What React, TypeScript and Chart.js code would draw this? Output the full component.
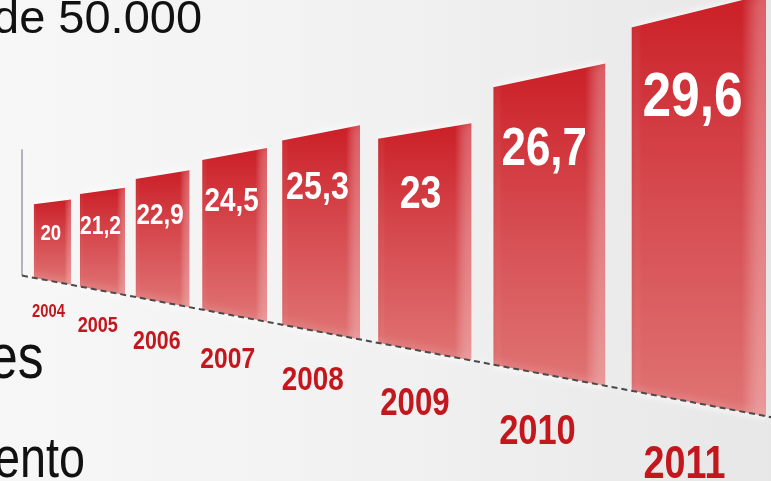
import React, { useEffect, useRef } from "react";
import { Chart, registerables } from "chart.js";

Chart.register(...registerables);

// ---- data ----
const years = ["2004", "2005", "2006", "2007", "2008", "2009", "2010", "2011"];
const values = [20, 21.2, 22.9, 24.5, 25.3, 23, 26.7, 29.6];
const valueLabels = ["20", "21,2", "22,9", "24,5", "25,3", "23", "26,7", "29,6"];
const slideFragments = ["de 50.000", "es", "ento"];

// ---- perspective layout (style constants) ----
const CANVAS_W = 771;
const CANVAS_H = 481;
const VP_X = -200; // vanishing point of the tilted chart plane
const VP_Y = 233.6;
const FLOOR_SLOPE = 0.189;
const VALUE_FLOOR = -4.85; // value axis origin of the plane
const HEIGHT_PER_UNIT = 0.01268;
const AXIS_TOP_VALUE = 40;
const X_ORIGIN = -197.7;
const X_SPAN = 231.4;
const GROWTH = 1.2;
const BAR_FRACTION = 0.825;
const AXIS_U = -0.285;
const END_U = 8.3;
const VALUE_LABEL_U = 0.39;
const YEAR_LABEL_U = 0.34;
const NARROW = 0.82;

const planeX = (u: number) => X_ORIGIN + X_SPAN * Math.pow(GROWTH, u);
const planeH = (v: number) => HEIGHT_PER_UNIT * (v - VALUE_FLOOR);
const depth = (x: number) => x - VP_X;
const projY = (x: number, h: number) => VP_Y + depth(x) * (FLOOR_SLOPE - h);

const ok = (...n: number[]) => n.every((k) => Number.isFinite(k));

function drawText(
  ctx: CanvasRenderingContext2D,
  text: string,
  x: number,
  y: number,
  size: number,
  color: string,
  weight: string,
  align: CanvasTextAlign,
  squeeze: number
) {
  ctx.save();
  ctx.translate(x, y);
  ctx.scale(squeeze, 1);
  ctx.font = `${weight} ${size}px "Liberation Sans", Arial, sans-serif`;
  ctx.fillStyle = color;
  ctx.textAlign = align;
  ctx.textBaseline = "alphabetic";
  ctx.fillText(text, 0, 0);
  ctx.restore();
}

export default function App() {
  const ref = useRef<HTMLCanvasElement>(null);

  useEffect(() => {
    const canvas = ref.current;
    if (!canvas) return;

    const datasets: any[] = [];
    const ax = planeX(AXIS_U);
    const ex = planeX(END_U);

    datasets.push({
      label: "floor",
      data: [
        { x: ax, y: projY(ax, 0) },
        { x: ex, y: projY(ex, 0) },
      ],
      borderColor: "#4a4a4a",
      borderWidth: 2,
      borderDash: [6, 4],
      pointRadius: 0,
      fill: false,
      order: 0,
    });
    datasets.push({
      label: "axis",
      data: [
        { x: ax, y: projY(ax, 0) },
        { x: ax, y: projY(ax, planeH(AXIS_TOP_VALUE)) },
      ],
      borderColor: "#b2b2ba",
      borderWidth: 2,
      pointRadius: 0,
      fill: false,
      order: 0,
    });

    values.forEach((v, i) => {
      const xl = planeX(i);
      const xr = planeX(i + BAR_FRACTION);
      const h = planeH(v);
      const bottom = [
        { x: xl, y: projY(xl, 0) },
        { x: xr, y: projY(xr, 0) },
      ];
      const top = [
        { x: xl, y: projY(xl, h) },
        { x: xr, y: projY(xr, h) },
      ];
      const bottomIndex = datasets.length;
      datasets.push({
        label: `${years[i]}-base`,
        data: bottom,
        borderColor: "transparent",
        borderWidth: 0,
        pointRadius: 0,
        fill: false,
        order: 3,
      });
      datasets.push({
        label: years[i],
        data: top,
        borderColor: "transparent",
        borderWidth: 0,
        pointRadius: 0,
        fill: bottomIndex,
        order: 2,
        backgroundColor: (c: any) => {
          const chart = c.chart;
          const sy = chart.scales && chart.scales.y;
          if (!sy || !chart.chartArea) return "#d2373d";
          const y0 = sy.getPixelForValue(Math.min(top[0].y, top[1].y));
          const y1 = sy.getPixelForValue(Math.max(bottom[0].y, bottom[1].y));
          if (!ok(y0, y1) || y0 === y1) return "#d2373d";
          const g = chart.ctx.createLinearGradient(0, y0, 0, y1);
          g.addColorStop(0, "#cb1f27");
          g.addColorStop(0.45, "#d5484d");
          g.addColorStop(1, "#e07474");
          return g;
        },
      });
      datasets.push({
        label: `${years[i]}-sheen`,
        data: top,
        borderColor: "transparent",
        borderWidth: 0,
        pointRadius: 0,
        fill: bottomIndex,
        order: 1,
        backgroundColor: (c: any) => {
          const chart = c.chart;
          const sx = chart.scales && chart.scales.x;
          if (!sx || !chart.chartArea) return "rgba(0,0,0,0)";
          const x0 = sx.getPixelForValue(xl);
          const x1 = sx.getPixelForValue(xr);
          if (!ok(x0, x1) || x0 === x1) return "rgba(0,0,0,0)";
          const g = chart.ctx.createLinearGradient(x0, 0, x1, 0);
          g.addColorStop(0, "rgba(150,0,0,0.08)");
          g.addColorStop(0.08, "rgba(255,255,255,0)");
          g.addColorStop(0.82, "rgba(255,255,255,0)");
          g.addColorStop(1, "rgba(255,200,205,0.25)");
          return g;
        },
      });
    });

    const backgroundPlugin = {
      id: "slideBackground",
      beforeDraw(chart: any) {
        const ctx: CanvasRenderingContext2D = chart.ctx;
        ctx.save();
        const g = ctx.createLinearGradient(0, 0, CANVAS_W, 0);
        g.addColorStop(0, "#f7f7f7");
        g.addColorStop(0.5, "#f1f1f1");
        g.addColorStop(1, "#e7e7e7");
        ctx.fillStyle = g;
        ctx.fillRect(0, 0, chart.width, chart.height);
        ctx.restore();
        drawText(ctx, slideFragments[0], -7, 33, 47, "#111111", "normal", "left", 1);
        drawText(ctx, slideFragments[1], 43.5, 378, 63, "#111111", "normal", "right", NARROW);
        drawText(ctx, slideFragments[2], 85, 477, 57, "#111111", "normal", "right", NARROW);
      },
    };

    const glowPlugin = {
      id: "barGlow",
      beforeDatasetsDraw(chart: any) {
        const ctx = chart.ctx;
        ctx.save();
        ctx.shadowColor = "rgba(255,255,255,0.95)";
        ctx.shadowBlur = 10;
      },
      afterDatasetsDraw(chart: any) {
        chart.ctx.restore();
      },
    };

    const labelPlugin = {
      id: "perspectiveLabels",
      afterDatasetsDraw(chart: any) {
        const ctx: CanvasRenderingContext2D = chart.ctx;
        const sx = chart.scales.x;
        const sy = chart.scales.y;
        values.forEach((v, i) => {
          const xv = planeX(i + VALUE_LABEL_U);
          const s = depth(xv);
          const size = 0.0625 * s + 7;
          const cy = projY(xv, planeH(v)) + 0.08 * s + 10;
          drawText(
            ctx,
            valueLabels[i],
            sx.getPixelForValue(xv),
            sy.getPixelForValue(cy) + 0.358 * size,
            size,
            "#ffffff",
            "bold",
            "center",
            NARROW
          );
          const xy = planeX(i + YEAR_LABEL_U);
          const ysize = 18 + 4 * i;
          const ycy = projY(xy, 0) + 30 + 4.4 * i;
          drawText(
            ctx,
            years[i],
            sx.getPixelForValue(xy),
            sy.getPixelForValue(ycy) + 0.358 * ysize,
            ysize,
            "#c3161d",
            "bold",
            "center",
            NARROW
          );
        });
      },
    };

    const chart = new Chart(canvas, {
      type: "line",
      data: { datasets },
      options: {
        animation: false,
        responsive: true,
        maintainAspectRatio: false,
        events: [],
        layout: { padding: 0 },
        elements: { line: { tension: 0 } },
        scales: {
          x: { type: "linear", min: 0, max: CANVAS_W, display: false },
          y: { type: "linear", min: 0, max: CANVAS_H, reverse: true, display: false },
        },
        plugins: {
          legend: { display: false },
          tooltip: { enabled: false },
        },
      },
      plugins: [backgroundPlugin, glowPlugin, labelPlugin],
    });

    return () => chart.destroy();
  }, []);

  return (
    <div
      style={{
        position: "fixed",
        left: 0,
        top: 0,
        width: CANVAS_W,
        height: CANVAS_H,
      }}
    >
      <canvas ref={ref} />
    </div>
  );
}
